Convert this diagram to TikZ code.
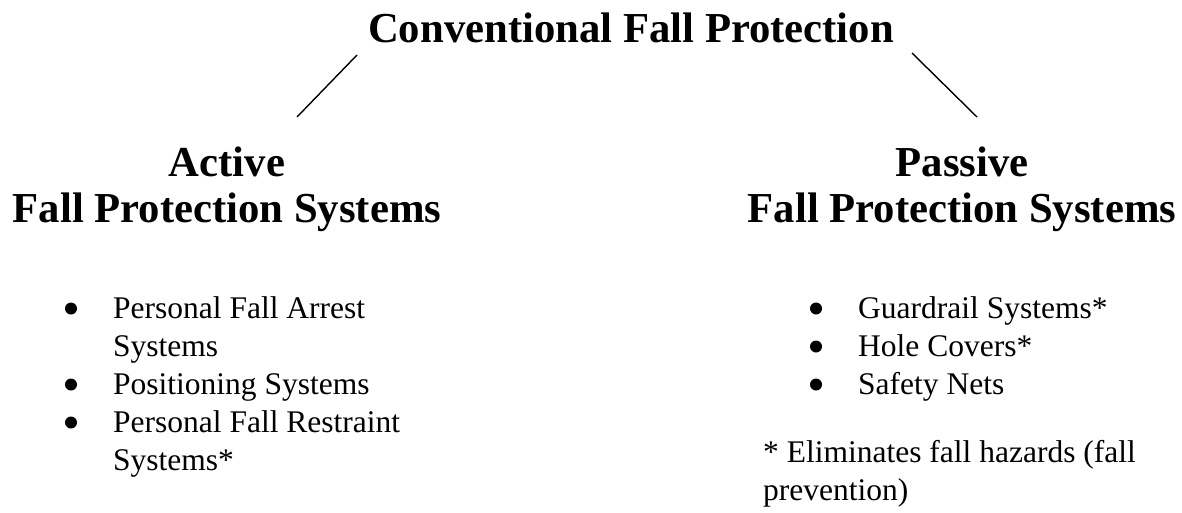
\documentclass[tikz,border=0pt]{standalone}
\usepackage{fontspec}
\setmainfont{Liberation Serif}
\begin{document}
\begin{tikzpicture}[x=1pt,y=-1pt,
  head/.style={font=\fontsize{42.7}{50}\selectfont\bfseries, inner sep=0pt, anchor=base},
  itemtext/.style={font=\fontsize{31.5}{38}\selectfont, inner sep=0pt, anchor=base west},
  bul/.style={circle, fill=black, inner sep=0pt, minimum size=12pt},
  conn/.style={line width=1.4pt, black}]
\useasboundingbox[fill=white] (0,0) rectangle (1182,512);
% headings
\node[head] (title) at (631,42) {Conventional Fall Protection};
\node[head] (act) at (227,176) {Active};
\node[head] (actsys) at (227,222) {Fall Protection Systems};
\node[head] (pas) at (962,176) {Passive};
\node[head] (passys) at (962,222) {Fall Protection Systems};
% connectors
\coordinate (lt) at (357,55);
\coordinate (lb) at (297,117);
\coordinate (rt) at (912,53);
\coordinate (rb) at (977,117);
\draw[conn] (lt) -- (lb);
\draw[conn] (rt) -- (rb);
% left list
\node[bul] (lb1) at (71,308.5) {};
\node[itemtext] (li1) at (113,318) {Personal Fall Arrest};
\node[itemtext] (li1b) at (113,356) {Systems};
\node[bul] (lb2) at (71,384.5) {};
\node[itemtext] (li2) at (113,394) {Positioning Systems};
\node[bul] (lb3) at (71,422.5) {};
\node[itemtext] (li3) at (113,432) {Personal Fall Restraint};
\node[itemtext] (li3b) at (113,470) {Systems*};
% right list
\node[bul] (rb1) at (816,308.5) {};
\node[itemtext] (ri1) at (858,318) {Guardrail Systems*};
\node[bul] (rb2) at (816,346.5) {};
\node[itemtext] (ri2) at (858,356) {Hole Covers*};
\node[bul] (rb3) at (816,384.5) {};
\node[itemtext] (ri3) at (858,394) {Safety Nets};
% footnote
\node[itemtext] (fn1) at (763,462) {* Eliminates fall hazards (fall};
\node[itemtext] (fn2) at (763,500) {prevention)};
\end{tikzpicture}
\end{document}
